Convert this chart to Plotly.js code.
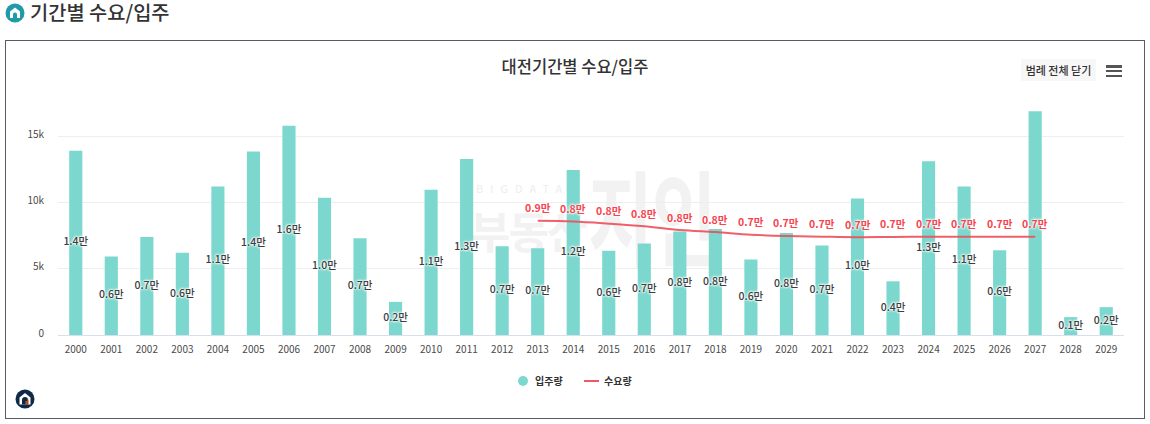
<!DOCTYPE html>
<html>
<head>
<meta charset="utf-8">
<script src="https://cdn.plot.ly/plotly-3.0.1.min.js"></script>
<style>
    html, body { margin: 0; padding: 0; background: #fff; width: 1150px; height: 424px; overflow: hidden; font-family: "Noto Sans CJK KR", sans-serif; }
    #heading { position: absolute; left: 30px; top: 0; font-size: 19.8px; line-height: 24px; font-weight: 500; color: #333; }
    #logo-top { position: absolute; left: 5px; top: 3px; }
    #frame { position: absolute; left: 5px; top: 40px; width: 1138px; height: 377px; border: 1px solid #565b66; }
    #logo-bottom { position: absolute; left: 15px; top: 389px; }
    #watermark { position: absolute; left: 468px; top: 176px; color: #f2f2f2; white-space: nowrap; }
    #watermark .big { position: absolute; left: 120px; top: -24px; font-size: 104px; line-height: 124px; font-weight: 700; transform: scaleX(0.68); transform-origin: left top; letter-spacing: -2px; }
    #watermark .mid { position: absolute; left: 2px; top: 24px; font-size: 44px; line-height: 60px; font-weight: 700; letter-spacing: -2px; }
    #watermark .small { position: absolute; left: 8px; top: 4px; font-size: 11px; letter-spacing: 7px; color: #ededed; }
    #chart { position: absolute; left: 0; top: 0; width: 1150px; height: 424px; }
    #legend-close { position: absolute; left: 1021px; top: 59px; width: 75px; height: 22px; background: #f7f7f7; color: #333; font-size: 11px; line-height: 22px; text-align: center; font-weight: 500; white-space: nowrap; }
    #menu { position: absolute; left: 1106px; top: 65px; width: 16px; height: 12px; }
    #menu div { height: 2.5px; background: #555; margin-bottom: 2.3px; }
    #legend { position: absolute; top: 373px; height: 16px; left: 0; width: 0; font-size: 10px; line-height: 16px; font-weight: 700; color: #333; }
    #legend span { position: absolute; white-space: nowrap; }
    #legend .dot { left: 518px; top: 3px; width: 10px; height: 10px; border-radius: 50%; background: #7cd8ce; }
    #legend .dash { left: 584px; top: 7px; width: 15px; height: 2px; background: #ee5a63; }
</style>
</head>
<body>
<svg id="logo-top" width="20" height="20" viewBox="0 0 20 20">
    <circle cx="10" cy="10" r="9.5" fill="#1f9aa8"/>
    <path d="M10 4.5 L15 8.5 V15 H5 V8.5 Z" fill="#fff"/>
    <path d="M8 15 V11.5 a2 2 0 0 1 4 0 V15 Z" fill="#1f9aa8"/>
</svg>
<div id="heading">기간별 수요/입주</div>
<div id="frame"></div>
<div id="watermark">
    <span class="small">BIGDATA</span>
    <span class="mid">부동산</span>
    <span class="big">지인</span>
</div>
<div id="chart"></div>
<div id="legend-close">범례 전체 닫기</div>
<div id="menu"><div></div><div></div><div></div></div>
<div id="legend">
    <span class="dot"></span><span style="left:535px">입주량</span>
    <span class="dash"></span><span style="left:604px">수요량</span>
</div>
<svg id="logo-bottom" width="20" height="20" viewBox="0 0 20 20">
    <circle cx="10" cy="10" r="9.5" fill="#0f2a47"/>
    <path d="M10 4 L15.5 8.5 V15.5 H4.5 V8.5 Z" fill="#fff"/>
    <path d="M7 15.5 V11 a3 3 0 0 1 6 0 V15.5 Z" fill="#0f2a47"/>
    <rect x="10.5" y="12" width="1.3" height="3.5" fill="#e8552d"/>
    <rect x="12.3" y="10.5" width="1.3" height="5" fill="#e8552d"/>
</svg>
<script>
const years = ['2000','2001','2002','2003','2004','2005','2006','2007','2008','2009',
    '2010','2011','2012','2013','2014','2015','2016','2017','2018','2019',
    '2020','2021','2022','2023','2024','2025','2026','2027','2028','2029'];

// 입주량
const supply = [13900, 5930, 7400, 6200, 11200, 13850, 15780, 10350, 7300, 2500,
    10950, 13270, 6700, 6550, 12450, 6350, 6900, 7800, 8000, 5700,
    7700, 6750, 10300, 4050, 13100, 11200, 6400, 16870, 1350, 2100];
const supplyLabels = ['1.4만','0.6만','0.7만','0.6만','1.1만','1.4만','1.6만','1.0만','0.7만','0.2만',
    '1.1만','1.3만','0.7만','0.7만','1.2만','0.6만','0.7만','0.8만','0.8만','0.6만',
    '0.8만','0.7만','1.0만','0.4만','1.3만','1.1만','0.6만','','0.1만','0.2만'];

// 수요량 (2013~2027)
const demandYears = ['2013','2014','2015','2016','2017','2018','2019','2020','2021','2022','2023','2024','2025','2026','2027'];
const demand = [8610, 8560, 8400, 8200, 7920, 7760, 7570, 7470, 7420, 7380, 7400, 7410, 7410, 7410, 7410];
const demandLabels = ['0.9만','0.8만','0.8만','0.8만','0.8만','0.8만','0.7만','0.7만','0.7만','0.7만','0.7만','0.7만','0.7만','0.7만','0.7만'];

const yTicks = [0, 5000, 10000, 15000];
const yTickLabels = ['0', '5k', '10k', '15k'];

const FONT = '"Noto Sans CJK KR", sans-serif';
const HALO = '#fff 0 0 2px, #fff 0 0 2px, #fff 0 0 3px, #fff 0 0 3px';
const BAR_COLOR = '#7cd8ce';
const LINE_COLOR = '#ee4f5a';

const traces = [
    {
        type: 'bar', x: years, y: supply, width: 0.37, name: '입주량',
        marker: { color: BAR_COLOR }, hoverinfo: 'x+y'
    },
    {
        type: 'scatter', mode: 'lines', x: demandYears, y: demand, name: '수요량', opacity: 0.9,
        line: { color: LINE_COLOR, width: 2, shape: 'spline' }
    },
    // bar labels sit at mid height
    {
        type: 'scatter', mode: 'text', x: years, y: supply.map(v => v / 2), text: supplyLabels,
        textposition: 'middle center', hoverinfo: 'skip',
        textfont: { family: FONT, size: 10.5, color: '#3d3d3d', weight: 500, shadow: HALO }
    }
];

// numeric-looking categories: annotations need the category index
const annotations = demandYears.map((yr, i) => ({
    x: years.indexOf(yr), y: demand[i], yshift: 13, text: demandLabels[i], showarrow: false,
    font: { family: FONT, size: 10.5, color: '#f8434f', weight: 700, shadow: HALO }
}));

const layout = {
    width: 1150, height: 424,
    margin: { l: 58, r: 26, t: 102.6, b: 89, pad: 0 },
    paper_bgcolor: 'rgba(0,0,0,0)',
    plot_bgcolor: 'rgba(0,0,0,0)',
    font: { family: FONT, size: 10, color: '#555' },
    title: { text: '대전기간별 수요/입주', x: 0.5, xanchor: 'center', y: 0.842, yanchor: 'middle',
        font: { family: FONT, size: 16.5, color: '#333', weight: 500 } },
    xaxis: {
        type: 'category', range: [-0.5, 29.5], fixedrange: true,
        ticks: 'outside', ticklen: 5, tickcolor: 'rgba(0,0,0,0)',
        showline: false, showgrid: false,
        tickfont: { family: FONT, size: 10, color: '#4a4a4a' }
    },
    yaxis: {
        range: [0, 17500], fixedrange: true, tickvals: yTicks, ticktext: yTickLabels,
        ticks: 'outside', ticklen: 11, tickcolor: 'rgba(0,0,0,0)', ticklabelshift: -2,
        gridcolor: '#eeeeee', gridwidth: 1, zeroline: true, zerolinecolor: '#d8dfee', zerolinewidth: 1,
        tickfont: { family: FONT, size: 10, color: '#4a4a4a' }
    },
    annotations: annotations,
    showlegend: false,
    hovermode: 'closest'
};

Plotly.newPlot('chart', traces, layout, { displayModeBar: false, responsive: false });
</script>
</body>
</html>
